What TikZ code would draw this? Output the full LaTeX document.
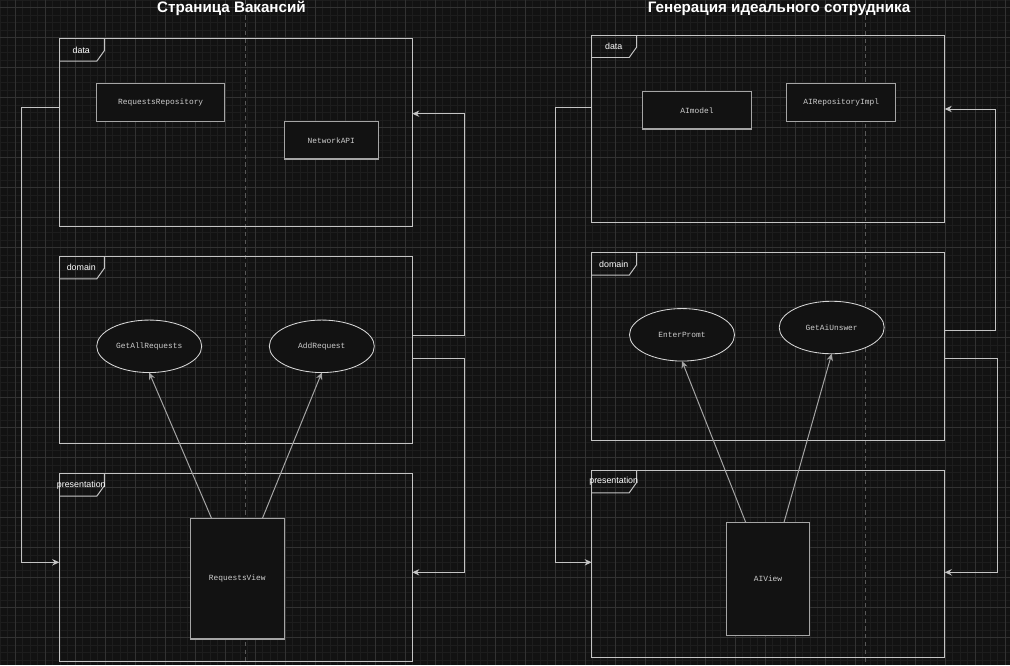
\documentclass[tikz,border=0pt]{standalone}
\usepackage{fontspec}
\setmainfont{Liberation Sans}
\setmonofont{Liberation Mono}
\usepackage{tikz}
\usetikzlibrary{arrows.meta, calc, positioning}
\usetikzlibrary{shapes.geometric}
\definecolor{bgcol}{RGB}{18,18,18}
\definecolor{gridminor}{RGB}{29,29,29}
\definecolor{gridmajor}{RGB}{50,50,50}
\definecolor{framecol}{RGB}{196,196,196}
\definecolor{boxcol}{RGB}{165,165,165}
\definecolor{ellcol}{RGB}{215,215,215}
\definecolor{textcol}{RGB}{205,205,205}
\definecolor{pagecol}{RGB}{88,88,88}
\def\px{0.025cm}
\def\umlframe(#1)(#2,#3)(#4:#5)#6{
	\node[frame, minimum width=#4*\px, minimum height=#5*\px, anchor=north west] (#1) at (#2,#3) {};
	\draw[frameline] ($(#1.north west)+(45,0)$) -- ++(0,12) -- ++(-7.5,10.5) -- ++(-37.5,0);
	\node[tabtext] (#1tab) at ($(#1.north west)+(22,11.3)$) {#6};}

\begin{document}
\begin{tikzpicture}[x=\px, y=-\px, >={Stealth[length=5pt, width=4.5pt]},
	frame/.style={draw=framecol, line width=0.7pt, inner sep=0pt, outer sep=0pt},
	frameline/.style={draw=framecol, line width=0.7pt},
	tabtext/.style={font=\fontsize{6.3}{7}\selectfont, text=white},
	titletext/.style={font=\fontsize{10.8}{12}\selectfont\bfseries, text=white},
	box/.style={draw=boxcol, fill=bgcol, line width=0.8pt, inner sep=0pt, outer sep=0pt,
		font=\fontsize{5.6}{7}\ttfamily, text=textcol},
	usecase/.style={ellipse, draw=ellcol, fill=bgcol, line width=0.6pt, inner sep=0pt, outer sep=0pt,
		minimum width=105*\px, minimum height=52.5*\px, font=\fontsize{5.6}{7}\ttfamily, text=textcol},
	conn/.style={draw=framecol, line width=0.7pt, ->},
	dep/.style={draw=boxcol, line width=0.7pt, ->},
	pagebreak/.style={draw=pagecol, line width=0.6pt, dash pattern=on 3pt off 2.5pt}]

	\useasboundingbox (0,0) rectangle (1010,665);
	\fill[bgcol] (0,0) rectangle (1010,665);
	\foreach \gx in {0,7.5,...,1010} \draw[gridminor, line width=0.4pt] (\gx,0) -- (\gx,665);
	\foreach \gy in {0,7.5,...,665} \draw[gridminor, line width=0.4pt] (0,\gy) -- (1010,\gy);
	\foreach \gx in {15,45,...,1010} \draw[gridmajor, line width=0.5pt] (\gx,0) -- (\gx,665);
	\foreach \gy in {7.5,37.5,...,665} \draw[gridmajor, line width=0.5pt] (0,\gy) -- (1010,\gy);

	\draw[pagebreak] (245.3,0) -- (245.3,665);
	\draw[pagebreak] (865,0) -- (865,665);

	\node[titletext, anchor=base] (titleL) at (231.5,12.3) {Страница Вакансий};
	\node[titletext, anchor=base] (titleR) at (779,12.3) {Генерация идеального сотрудника};

	% Страница Вакансий
	\umlframe(dataL)(59.3,38.7)(353:187.6){data}
	\umlframe(domainL)(59.3,256.3)(353:187.4){domain}
	\umlframe(presL)(59.3,473.7)(353:187.6){presentation}

	\draw[conn] ($(dataL.north west)+(0,68.3)$) -- ++(-37.6,0) |- ($(presL.north west)+(0,88.6)$);
	\draw[conn] ($(domainL.north east)+(0,79.4)$) -- ++(52,0) |- ($(dataL.north east)+(0,75)$);
	\draw[conn] ($(domainL.north east)+(0,102)$) -- ++(52,0) |- ($(presL.north east)+(0,98.6)$);

	\node[box, minimum width=128*\px, minimum height=37.6*\px] (reqRepo) at (160.7,102.5) {RequestsRepository};
	\node[box, minimum width=94*\px, minimum height=37.6*\px] (netApi) at (331.3,140.2) {NetworkAPI};
	\node[usecase] (getAll) at (149.2,346.3) {GetAllRequests};
	\node[usecase] (addReq) at (321.8,346.3) {AddRequest};
	\node[box, minimum width=94*\px, minimum height=120.3*\px] (reqView) at (237.3,578.8) {RequestsView};

	\draw[dep] ($(reqView.north west)+(21.4,0)$) -- (getAll.south);
	\draw[dep] ($(reqView.north west)+(72,0)$) -- (addReq.south);

	% Генерация идеального сотрудника
	\umlframe(dataR)(591.7,35)(353:187.3){data}
	\umlframe(domainR)(591.7,252.7)(353:187.6){domain}
	\umlframe(presR)(591.7,470.3)(353:187.4){presentation}

	\draw[conn] ($(dataR.north west)+(0,72)$) -- ++(-36,0) |- ($(presR.north west)+(0,92)$);
	\draw[conn] ($(domainR.north east)+(0,78)$) -- ++(50.6,0) |- ($(dataR.north east)+(0,74)$);
	\draw[conn] ($(domainR.north east)+(0,105.6)$) -- ++(52.3,0) |- ($(presR.north east)+(0,102)$);

	\node[box, minimum width=109.4*\px, minimum height=37.7*\px] (aiModel) at (697,110.2) {AImodel};
	\node[box, minimum width=109*\px, minimum height=37.6*\px] (aiRepo) at (841.2,102.5) {AIRepositoryImpl};
	\node[usecase] (enterPromt) at (682,334.8) {EnterPromt};
	\node[usecase] (getAnswer) at (831.7,327.5) {GetAiUnswer};
	\node[box, minimum width=82.6*\px, minimum height=112.7*\px] (aiView) at (768,578.7) {AIView};

	\draw[dep] ($(aiView.north west)+(19,0)$) -- (enterPromt.south);
	\draw[dep] ($(aiView.north west)+(57.3,0)$) -- (getAnswer.south);

\end{tikzpicture}
\end{document}
